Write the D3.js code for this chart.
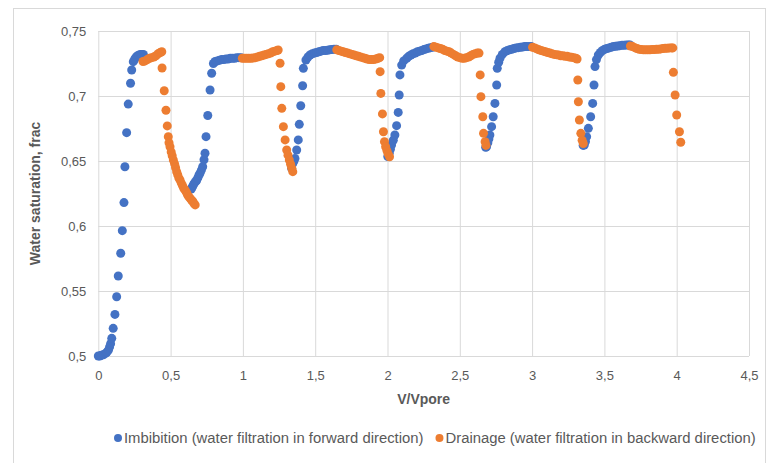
<!DOCTYPE html>
<html><head><meta charset="utf-8">
<script src="https://cdn.jsdelivr.net/npm/d3@7"></script>
<style>html,body{margin:0;padding:0;background:#fff;}svg{display:block;}</style>
</head><body>
<svg id="chart" width="767" height="463"></svg>
<script>
// Imbibition (blue) points [V/Vpore, Sw]
const imbibition = [
[0,0.5],[0.01,0.5],[0.02,0.5005],[0.035,0.501],[0.05,0.502],[0.06,0.503],[0.07,0.5045],[0.078,0.507],[0.085,0.5095],[0.093,0.5136],[0.103,0.5213],[0.115,0.532],[0.127,0.5456],[0.138,0.5615],[0.155,0.579],[0.166,0.5964],[0.1775,0.618],[0.184,0.6456],[0.196,0.6718],[0.207,0.6938],[0.223,0.7098],[0.231,0.72],[0.242,0.7264],[0.252,0.7285],[0.262,0.73],[0.272,0.731],[0.282,0.7315],[0.292,0.732],[0.302,0.732],[0.312,0.732],
[0.643,0.6285],[0.65,0.63],[0.657,0.6315],[0.664,0.633],[0.672,0.634],[0.68,0.635],[0.688,0.637],[0.696,0.639],[0.703,0.6405],[0.713,0.643],[0.722,0.6456],[0.731,0.651],[0.738,0.656],[0.745,0.6687],[0.757,0.685],[0.773,0.7046],[0.784,0.7175],[0.796,0.725],[0.808,0.7265],[0.823,0.727],[0.838,0.7275],[0.853,0.728],[0.868,0.728],[0.883,0.7285],[0.898,0.7285],[0.913,0.729],[0.928,0.729],[0.943,0.729],[0.958,0.7295],[0.973,0.7295],[0.988,0.7295],
[1.337,0.6444],[1.345,0.648],[1.353,0.65],[1.36,0.652],[1.372,0.6585],[1.383,0.6662],[1.39,0.6782],[1.4,0.6925],[1.413,0.7079],[1.418,0.7213],[1.436,0.7277],[1.45,0.73],[1.464,0.7315],[1.48,0.7325],[1.495,0.733],[1.51,0.7335],[1.525,0.734],[1.54,0.7345],[1.555,0.735],[1.57,0.735],[1.585,0.7352],[1.6,0.7355],[1.615,0.7358],[1.63,0.736],[1.645,0.736],
[2.002,0.6535],[2.012,0.656],[2.02,0.659],[2.028,0.6623],[2.04,0.666],[2.051,0.67],[2.063,0.6772],[2.074,0.6874],[2.081,0.7008],[2.086,0.7162],[2.098,0.7238],[2.112,0.727],[2.133,0.729],[2.147,0.7305],[2.162,0.7315],[2.177,0.7325],[2.192,0.733],[2.207,0.734],[2.222,0.7345],[2.237,0.735],[2.252,0.7357],[2.267,0.7362],[2.282,0.7367],[2.297,0.7372],[2.312,0.7375],
[2.679,0.6605],[2.685,0.661],[2.694,0.664],[2.701,0.667],[2.708,0.67],[2.72,0.6764],[2.731,0.684],[2.743,0.6943],[2.755,0.7085],[2.759,0.7213],[2.769,0.726],[2.778,0.729],[2.794,0.732],[2.812,0.734],[2.829,0.735],[2.844,0.7355],[2.859,0.736],[2.874,0.7365],[2.889,0.737],[2.904,0.7372],[2.919,0.7375],[2.934,0.7377],[2.949,0.738],[2.964,0.738],[2.979,0.738],[2.994,0.738],
[3.353,0.662],[3.361,0.6623],[3.369,0.665],[3.377,0.6687],[3.389,0.6751],[3.405,0.684],[3.419,0.6943],[3.428,0.7085],[3.435,0.7226],[3.445,0.728],[3.458,0.7315],[3.472,0.7335],[3.487,0.735],[3.502,0.736],[3.517,0.7365],[3.532,0.737],[3.547,0.7375],[3.562,0.738],[3.577,0.7382],[3.592,0.7385],[3.607,0.7387],[3.622,0.739],[3.637,0.739],[3.652,0.7392],[3.667,0.7392],[3.677,0.7392]
];
// Drainage (orange) points [V/Vpore, Sw]
const drainage = [
[0.309,0.7265],[0.324,0.727],[0.339,0.728],[0.354,0.729],[0.369,0.7295],[0.384,0.73],[0.399,0.731],[0.414,0.7325],[0.429,0.7335],[0.439,0.734],[0.441,0.7215],[0.456,0.704],[0.468,0.689],[0.477,0.677],[0.484,0.6687],[0.489,0.664],[0.496,0.661],[0.504,0.657],[0.511,0.654],[0.519,0.6508],[0.527,0.648],[0.534,0.645],[0.542,0.6418],[0.549,0.6395],[0.557,0.637],[0.565,0.6354],[0.574,0.633],[0.583,0.631],[0.591,0.629],[0.6,0.6277],[0.609,0.626],[0.617,0.624],[0.626,0.6225],[0.635,0.6213],[0.644,0.62],[0.653,0.619],[0.661,0.6175],[0.67,0.6162],
[0.996,0.729],[1.011,0.729],[1.026,0.729],[1.041,0.729],[1.056,0.729],[1.071,0.7292],[1.086,0.7295],[1.101,0.73],[1.116,0.7305],[1.131,0.731],[1.146,0.7315],[1.161,0.732],[1.176,0.7325],[1.191,0.733],[1.206,0.734],[1.221,0.7345],[1.236,0.735],[1.244,0.7354],[1.257,0.7252],[1.262,0.7072],[1.269,0.6905],[1.28,0.6764],[1.292,0.6662],[1.303,0.6585],[1.312,0.6545],[1.321,0.6508],[1.33,0.6475],[1.338,0.6444],[1.345,0.6418],
[1.649,0.7355],[1.664,0.735],[1.679,0.7345],[1.694,0.734],[1.709,0.7335],[1.724,0.733],[1.739,0.7325],[1.754,0.732],[1.769,0.7315],[1.784,0.731],[1.799,0.7305],[1.814,0.73],[1.829,0.7295],[1.844,0.729],[1.859,0.7285],[1.874,0.728],[1.889,0.728],[1.904,0.728],[1.919,0.7285],[1.934,0.729],[1.946,0.7295],[1.949,0.7187],[1.954,0.702],[1.965,0.6862],[1.972,0.6725],[1.979,0.6649],[1.987,0.661],[1.996,0.658],[2.004,0.6555],[2.014,0.6533],
[2.321,0.738],[2.336,0.7375],[2.351,0.737],[2.366,0.7365],[2.381,0.736],[2.396,0.735],[2.411,0.7345],[2.426,0.734],[2.441,0.733],[2.456,0.732],[2.471,0.731],[2.486,0.73],[2.501,0.7295],[2.516,0.729],[2.531,0.729],[2.546,0.7295],[2.561,0.73],[2.576,0.731],[2.591,0.732],[2.606,0.7325],[2.621,0.733],[2.633,0.733],[2.641,0.7162],[2.646,0.6995],[2.659,0.684],[2.664,0.6713],[2.675,0.6649],[2.681,0.662],
[3.003,0.7375],[3.018,0.737],[3.033,0.7362],[3.048,0.7355],[3.063,0.735],[3.078,0.7345],[3.093,0.734],[3.108,0.7335],[3.123,0.733],[3.138,0.7325],[3.153,0.732],[3.168,0.7318],[3.183,0.7315],[3.198,0.731],[3.213,0.731],[3.228,0.7305],[3.243,0.7305],[3.258,0.73],[3.273,0.7298],[3.288,0.7295],[3.303,0.729],[3.311,0.7285],[3.316,0.7123],[3.32,0.6956],[3.327,0.6815],[3.337,0.6713],[3.346,0.666],[3.354,0.6635],
[3.68,0.7385],[3.695,0.738],[3.71,0.7372],[3.725,0.7365],[3.74,0.736],[3.755,0.7357],[3.77,0.7355],[3.785,0.7355],[3.8,0.7355],[3.815,0.7355],[3.83,0.7357],[3.845,0.7358],[3.86,0.736],[3.875,0.736],[3.89,0.7362],[3.905,0.7365],[3.92,0.7367],[3.935,0.7367],[3.95,0.737],[3.965,0.737],[3.973,0.737],[3.977,0.7182],[3.989,0.7008],[4.0,0.6854],[4.019,0.6725],[4.028,0.6644]
];
const xTicks = [0,0.5,1,1.5,2,2.5,3,3.5,4,4.5];
const yTicks = [0.5,0.55,0.6,0.65,0.7,0.75];
const seriesNames = ["Imbibition (water filtration in forward direction)","Drainage (water filtration in backward direction)"];
const seriesColors = ["#4472C4","#ED7D31"];
const xTitle = "V/Vpore";
const yTitle = "Water saturation, frac";

const svg = d3.select("#chart");
const fmt = d => String(d).replace(".", ",");
const font = "'Liberation Sans', Arial, sans-serif";
const legFont = "'Liberation Sans Narrow', 'Arial Narrow', 'Liberation Sans', Arial, sans-serif";

svg.append("rect").attr("x",13.5).attr("y",8.5).attr("width",752).attr("height",470)
  .attr("fill","#fff").attr("stroke","#d9d9d9");

const pLeft = 98.3, pRight = 749, pTop = 31, pBottom = 356;
const x = d3.scaleLinear().domain([0,4.5]).range([pLeft,pRight]);
const y = d3.scaleLinear().domain([0.5,0.75]).range([pBottom,pTop]);

const gx = svg.append("g").attr("transform",`translate(0,${pBottom})`)
  .call(d3.axisBottom(x).tickValues(xTicks).tickSize(-(pBottom-pTop)).tickFormat(fmt).tickPadding(15));
const gy = svg.append("g").attr("transform",`translate(${pLeft},0)`)
  .call(d3.axisLeft(y).tickValues(yTicks).tickSize(-(pRight-pLeft)).tickFormat(fmt).tickPadding(12));
[gx,gy].forEach(g=>{
  g.select(".domain").remove();
  g.selectAll(".tick line").attr("stroke","#d9d9d9").attr("stroke-width",1);
  g.selectAll(".tick text").attr("fill","#595959").attr("font-size",13).attr("font-family",font);
});

const marks = svg.append("g");
marks.selectAll("circle.imb").data(imbibition).join("circle").attr("class","imb")
  .attr("cx",d=>x(d[0])).attr("cy",d=>y(d[1])).attr("r",4.5).attr("fill",seriesColors[0]);
marks.selectAll("circle.dra").data(drainage).join("circle").attr("class","dra")
  .attr("cx",d=>x(d[0])).attr("cy",d=>y(d[1])).attr("r",4.5).attr("fill",seriesColors[1]);

svg.append("text").attr("x",(pLeft+pRight)/2).attr("y",404).attr("text-anchor","middle")
  .attr("font-family",font).attr("font-size",14).attr("font-weight","bold").attr("fill","#595959").text(xTitle);
svg.append("text").attr("transform",`translate(40,${(pTop+pBottom)/2}) rotate(-90)`).attr("text-anchor","middle")
  .attr("font-family",font).attr("font-size",14).attr("font-weight","bold").attr("fill","#595959").text(yTitle);

// legend: fit font size so the row spans from x=118 to x=756
const legStart = 118, legEnd = 756, dotGap = 6, itemGap = 12;
const leg = svg.append("g");
const texts = seriesNames.map(n => leg.append("text").attr("font-family",legFont).attr("font-size",14)
  .attr("fill","#595959").attr("y",443).text(n));
const natural = texts.reduce((s,t)=>s+t.node().getComputedTextLength(),0);
const avail = (legEnd - legStart) - 2*dotGap - itemGap - 4;
const fs = Math.min(15, 14*avail/natural);
texts.forEach(t=>t.attr("font-size",fs));
let cx = legStart;
texts.forEach((t,i)=>{
  leg.append("circle").attr("cx",cx).attr("cy",438).attr("r",4).attr("fill",seriesColors[i]);
  t.attr("x",cx+dotGap);
  cx = cx + dotGap + t.node().getComputedTextLength() + itemGap + 4;
});
</script>
</body></html>
